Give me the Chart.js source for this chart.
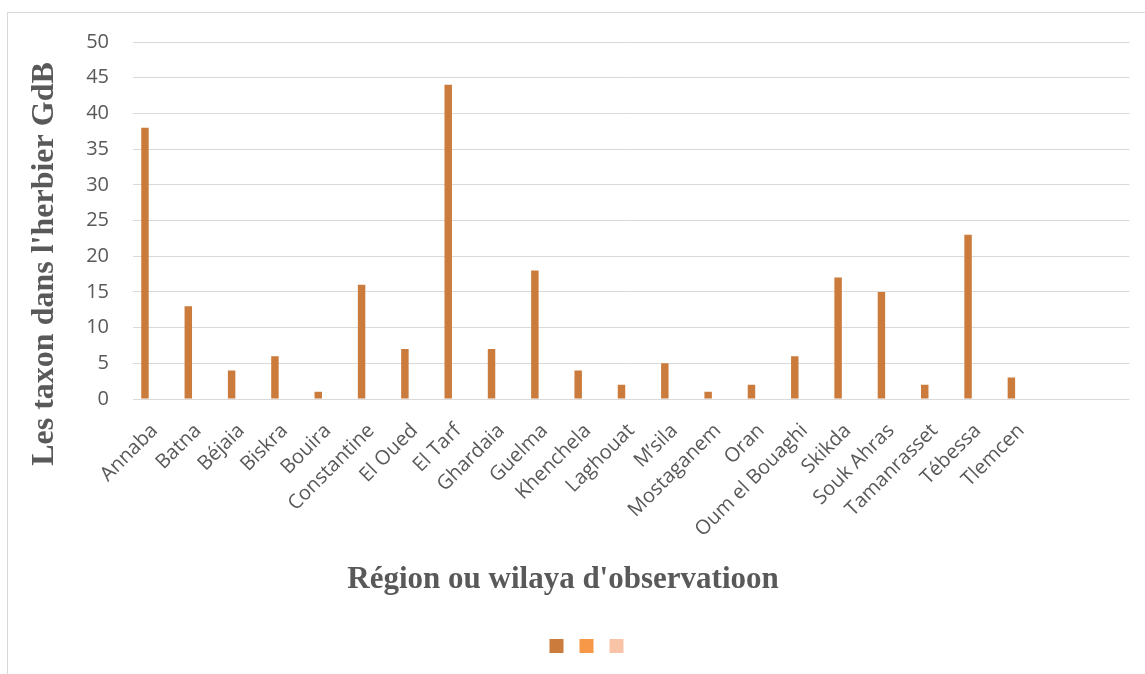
<!DOCTYPE html>
<html>
<head>
<meta charset="utf-8">
<title>Taxons de l'herbier GdB par wilaya</title>
<script src="https://cdn.jsdelivr.net/npm/chart.js@4/dist/chart.umd.min.js"></script>
<style>
  html, body { margin: 0; padding: 0; background: #ffffff; overflow: hidden; }
  #frame {
    position: absolute; left: 7px; top: 12px; width: 1300px; height: 800px;
    border: 1px solid #d9d9d9; box-sizing: border-box;
  }
  #chart { position: absolute; left: 0; top: 0; }
</style>
</head>
<body>
<div id="frame"></div>
<canvas id="chart" width="1145" height="674"></canvas>
<script>
// Wilayas (two trailing empty slots keep the axis as wide as the original sheet)
const regions = ['Annaba', 'Batna', 'Béjaia', 'Biskra', 'Bouira', 'Constantine', 'El Oued',
  'El Tarf', 'Ghardaia', 'Guelma', 'Khenchela', 'Laghouat', 'M’sila', 'Mostaganem', 'Oran',
  'Oum el Bouaghi', 'Skikda', 'Souk Ahras', 'Tamanrasset', 'Tébessa', 'Tlemcen', '', ''];

// Number of taxa held in the GdB herbarium for each wilaya
const taxa = [38, 13, 4, 6, 1, 16, 7, 44, 7, 18, 4, 2, 5, 1, 2, 6, 17, 15, 2, 23, 3];

// Two further series of the sheet, left without values
const series2 = [];
const series3 = [];

// Value axis ticks
const yTicks = { min: 0, max: 50, step: 5 };

const yTitle = "Les taxon dans l'herbier GdB";
const xTitle = "Région ou wilaya d'observatioon";

const grey = '#595959';
const tickFont = { family: "'Open Sans', sans-serif", size: 20 };
const titleFont = "'Liberation Serif', 'Times New Roman', serif";

// Axis titles, drawn as canvas text beside the plot
const axisTitles = {
  id: 'axisTitles',
  afterDraw(chart) {
    const ctx = chart.ctx;
    ctx.save();
    ctx.fillStyle = grey;
    ctx.textBaseline = 'alphabetic';
    ctx.textAlign = 'center';
    ctx.font = 'bold 31px ' + titleFont;
    ctx.fillText(xTitle, 563, 588);
    ctx.translate(53, 264);
    ctx.rotate(-Math.PI / 2);
    ctx.font = 'bold 32px ' + titleFont;
    ctx.fillText(yTitle, 0, 0);
    ctx.restore();
  }
};

new Chart(document.getElementById('chart'), {
  type: 'bar',
  data: {
    labels: regions,
    datasets: [
      { label: '', data: taxa, backgroundColor: '#cb7b3b', borderWidth: 0 },
      { label: '', data: series2, backgroundColor: '#f79748', borderWidth: 0 },
      { label: '', data: series3, backgroundColor: '#f9c3a8', borderWidth: 0 }
    ]
  },
  options: {
    responsive: false,
    devicePixelRatio: 1,
    animation: false,
    events: [],
    categoryPercentage: 0.671,
    barPercentage: 0.77,
    layout: { padding: { left: 48, right: 14, top: 42, bottom: 11 } },
    plugins: {
      legend: {
        position: 'bottom',
        labels: { boxWidth: 14, boxHeight: 14, padding: 10, font: { size: 12 }, color: grey }
      },
      title: { display: false },
      tooltip: { enabled: false }
    },
    scales: {
      x: {
        grid: { display: false, drawTicks: false },
        border: { display: false },
        ticks: {
          color: grey, font: tickFont, autoSkip: false,
          minRotation: 45, maxRotation: 45, padding: 20
        },
        afterFit(scale) { scale.height = 230; }
      },
      y: {
        min: yTicks.min, max: yTicks.max,
        grid: { color: '#d9d9d9', lineWidth: 1, drawTicks: false },
        border: { display: false },
        ticks: { stepSize: yTicks.step, color: grey, font: tickFont, padding: 24 },
        afterFit(scale) { scale.width = 85; }
      }
    }
  },
  plugins: [axisTitles]
});
</script>
</body>
</html>
